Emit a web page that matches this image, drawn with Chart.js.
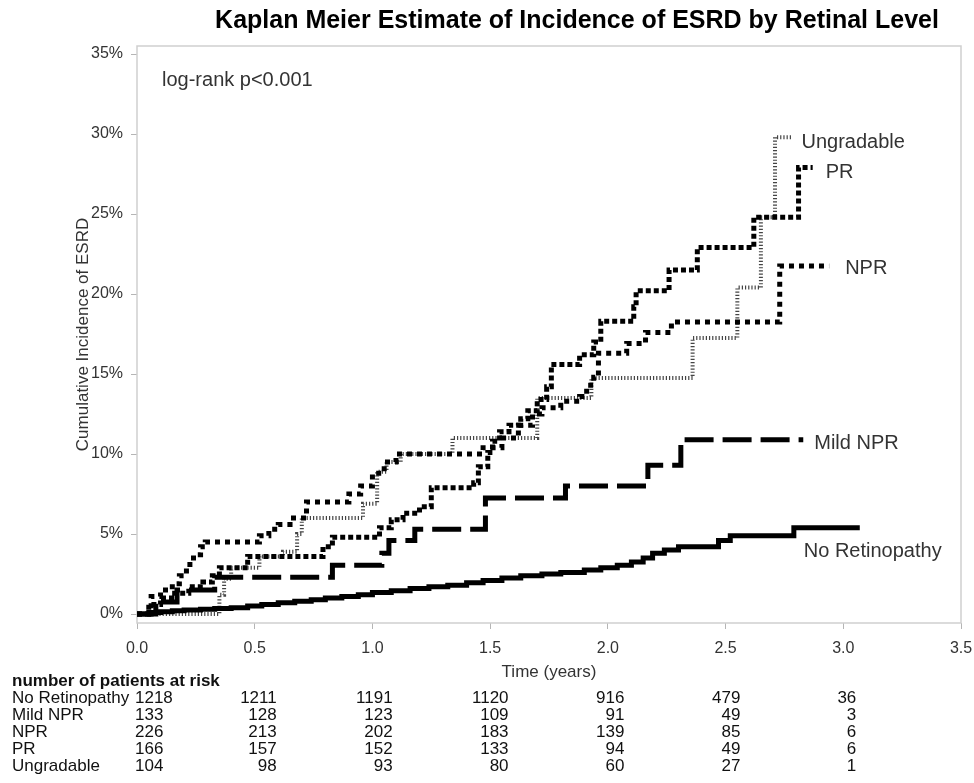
<!DOCTYPE html>
<html>
<head>
<meta charset="utf-8">
<script src="https://cdn.jsdelivr.net/npm/chart.js@4.4.1/dist/chart.umd.min.js"></script>
<style>
html, body { margin: 0; padding: 0; background: #fff; }
#wrap { width: 974px; height: 783px; position: relative; }
</style>
</head>
<body>
<div id="wrap"><canvas id="km"></canvas></div>
<script>
// groups
const groups = ["No Retinopathy", "Mild NPR", "NPR", "PR", "Ungradable"]

// step times (years) and cumulative incidence (%)
const noRetT = [0, 0.05, 0.1, 0.15, 0.2, 0.27, 0.33, 0.4, 0.47, 0.53, 0.6, 0.67, 0.74, 0.8, 0.87, 0.94, 1.0, 1.08, 1.16, 1.24, 1.32, 1.4, 1.47, 1.55, 1.63, 1.72, 1.8, 1.9, 1.97, 2.04, 2.1, 2.15, 2.19, 2.24, 2.3, 2.47, 2.52, 2.79, 3.07]
const noRetP = [0, 0.1, 0.15, 0.2, 0.25, 0.3, 0.35, 0.4, 0.5, 0.6, 0.7, 0.8, 0.9, 1.0, 1.1, 1.2, 1.35, 1.45, 1.6, 1.7, 1.8, 1.95, 2.1, 2.25, 2.4, 2.5, 2.6, 2.75, 2.9, 3.05, 3.25, 3.5, 3.8, 4.0, 4.2, 4.6, 4.9, 5.4, 5.4]

const mildT = [0, 0.08, 0.17, 0.33, 0.83, 1.04, 1.07, 1.18, 1.48, 1.82, 2.17, 2.31, 2.83]
const mildP = [0, 0.75, 1.5, 2.3, 3.05, 3.8, 4.6, 5.3, 7.25, 8.0, 9.3, 10.9, 10.9]

const nprT = [0, 0.06, 0.1, 0.15, 0.18, 0.21, 0.24, 0.27, 0.29, 0.52, 0.56, 0.6, 0.65, 0.72, 0.9, 0.95, 1.0, 1.05, 1.1, 1.47, 1.55, 1.62, 1.68, 1.72, 1.8, 1.88, 1.91, 1.94, 1.96, 2.08, 2.16, 2.27, 2.73, 2.94]
const nprP = [0, 1.1, 1.5, 1.9, 2.4, 3.1, 3.7, 4.2, 4.5, 4.9, 5.3, 5.6, 6.0, 7.0, 7.5, 8.0, 8.8, 9.5, 10.0, 10.4, 11.0, 11.8, 12.5, 12.9, 13.3, 13.6, 14.3, 14.8, 16.3, 16.9, 17.6, 18.25, 21.75, 21.75]

const prT = [0, 0.05, 0.1, 0.16, 0.22, 0.28, 0.32, 0.35, 0.47, 0.79, 0.83, 1.03, 1.08, 1.13, 1.2, 1.25, 1.43, 1.45, 1.49, 1.51, 1.54, 1.58, 1.63, 1.66, 1.7, 1.74, 1.76, 1.88, 1.94, 1.97, 2.11, 2.12, 2.26, 2.38, 2.62, 2.81, 2.87]
const prP = [0, 0.6, 1.0, 1.3, 1.7, 2.0, 2.4, 2.9, 3.6, 4.2, 4.8, 5.4, 5.9, 6.3, 6.7, 7.9, 8.2, 9.2, 10.1, 10.8, 11.4, 11.8, 12.2, 12.7, 13.4, 14.2, 15.6, 16.2, 17.0, 18.3, 19.2, 20.2, 21.5, 22.9, 24.8, 27.9, 27.9]

const ungT = [0, 0.35, 0.37, 0.4, 0.52, 0.62, 0.68, 0.7, 0.96, 1.02, 1.06, 1.12, 1.34, 1.7, 1.93, 2.36, 2.55, 2.65, 2.71, 2.78]
const ungP = [0, 1.2, 2.2, 2.9, 3.6, 3.9, 5.0, 6.0, 6.9, 8.9, 9.5, 10.0, 11.0, 13.5, 14.75, 17.25, 20.4, 24.8, 29.8, 29.8]

// axis ticks
const xTicks = [0, 0.5, 1.0, 1.5, 2.0, 2.5, 3.0, 3.5]
const yTicks = [0, 5, 10, 15, 20, 25, 30, 35]

// number at risk, per group, at each x tick
const riskTimes = [0, 0.5, 1.0, 1.5, 2.0, 2.5, 3.0]
const riskNoRet = [1218, 1211, 1191, 1120, 916, 479, 36]
const riskMild = [133, 128, 123, 109, 91, 49, 3]
const riskNpr = [226, 213, 202, 183, 139, 85, 6]
const riskPr = [166, 157, 152, 133, 94, 49, 6]
const riskUng = [104, 98, 93, 80, 60, 27, 1]

const FONT = "'Liberation Sans', Arial, sans-serif"

function pts(t, p) {
    return t.map((v, i) => ({ x: v, y: p[i] }))
}

// line look of each curve
const styles = [
    { color: '#000', width: 5, dash: [] },
    { color: '#000', width: 5, dash: [29, 9] },
    { color: '#000', width: 5, dash: [5, 5] },
    { color: '#000', width: 5, dash: [5, 3] },
    { color: '#444', width: 4, dash: [1.2, 2] }
]
// where each end label sits relative to the curve's last point (px)
const labelOffsets = [[-56, 24], [11, 4], [16, 2], [13, 5], [10, 5]]

const series = [pts(noRetT, noRetP), pts(mildT, mildP), pts(nprT, nprP), pts(prT, prP), pts(ungT, ungP)]
const risk = [riskNoRet, riskMild, riskNpr, riskPr, riskUng]

const extras = {
    id: 'extras',
    beforeDatasetsDraw(chart) {
        const a = chart.chartArea
        const ctx = chart.ctx
        ctx.save()
        ctx.strokeStyle = '#cfcfcf'
        ctx.lineWidth = 1.5
        ctx.strokeRect(a.left, a.top, a.right - a.left, a.bottom - a.top)
        ctx.restore()
    },
    afterDraw(chart) {
        const ctx = chart.ctx
        const xs = chart.scales.x
        const ys = chart.scales.y
        const a = chart.chartArea
        ctx.save()
        ctx.fillStyle = '#000'
        ctx.textBaseline = 'middle'

        // title
        ctx.font = 'bold 25px ' + FONT
        ctx.textAlign = 'center'
        ctx.fillText('Kaplan Meier Estimate of Incidence of ESRD by Retinal Level', 577, 21)

        // y axis title
        ctx.fillStyle = '#333'
        ctx.font = '17px ' + FONT
        ctx.save()
        ctx.translate(83, (a.top + a.bottom) / 2)
        ctx.rotate(-Math.PI / 2)
        ctx.fillText('Cumulative Incidence of ESRD', 0, 0)
        ctx.restore()

        // x axis title
        ctx.font = '17px ' + FONT
        ctx.fillText('Time (years)', (a.left + a.right) / 2, 672)

        // log-rank
        ctx.font = '20px ' + FONT
        ctx.textAlign = 'left'
        ctx.fillText('log-rank p<0.001', 162, 80)

        // end labels
        ctx.font = '20px ' + FONT
        series.forEach((s, i) => {
            const last = s[s.length - 1]
            const px = xs.getPixelForValue(last.x) + labelOffsets[i][0]
            const py = ys.getPixelForValue(last.y) + labelOffsets[i][1]
            ctx.fillText(groups[i], px, py)
        })

        // risk table
        ctx.fillStyle = '#111'
        ctx.font = 'bold 17px ' + FONT
        ctx.textAlign = 'left'
        ctx.fillText('number of patients at risk', 12, 681)
        ctx.font = '17px ' + FONT
        risk.forEach((row, r) => {
            const y = 698 + r * 17
            ctx.textAlign = 'left'
            ctx.fillText(groups[r], 12, y)
            row.forEach((n, c) => {
                const x = xs.getPixelForValue(riskTimes[c])
                if (c === 0) {
                    ctx.textAlign = 'left'
                    ctx.fillText(String(n), x - 2, y)
                } else {
                    // table columns sit a little tighter than the axis ticks
                    ctx.textAlign = 'right'
                    ctx.fillText(String(n), x + 22 - 1.8 * (c - 1), y)
                }
            })
        })
        ctx.restore()
    }
}

let chart = new Chart(document.getElementById('km'), {
    type: 'line',
    data: {
        datasets: series.map((s, i) => ({
            label: groups[i],
            data: s,
            stepped: 'before',
            borderColor: styles[i].color,
            borderWidth: styles[i].width,
            borderDash: styles[i].dash,
            borderCapStyle: 'butt',
            pointRadius: 0,
            fill: false
        }))
    },
    options: {
        responsive: true,
        maintainAspectRatio: false,
        animation: false,
        devicePixelRatio: 1,
        layout: { padding: { top: 46, right: 13, left: 0, bottom: 0 } },
        plugins: { legend: { display: false }, tooltip: { enabled: false } },
        scales: {
            x: {
                type: 'linear',
                min: 0,
                max: 3.5,
                afterBuildTicks: s => { s.ticks = xTicks.map(v => ({ value: v })) },
                afterFit: s => { s.height = 160; s.paddingLeft = 0; s.paddingRight = 0 },
                ticks: {
                    callback: v => v.toFixed(1),
                    font: { family: FONT, size: 16 },
                    color: '#333',
                    padding: 10,
                    maxRotation: 0
                },
                grid: { drawOnChartArea: false, tickLength: 6, color: '#b5b5b5' },
                border: { display: false }
            },
            y: {
                type: 'linear',
                min: -0.56,
                max: 35.5,
                afterBuildTicks: s => { s.ticks = yTicks.map(v => ({ value: v })) },
                afterFit: s => { s.width = 137; s.paddingTop = 0; s.paddingBottom = 0 },
                ticks: {
                    callback: v => v + '%',
                    font: { family: FONT, size: 16 },
                    color: '#333',
                    padding: 8
                },
                grid: { drawOnChartArea: false, tickLength: 6, color: '#b5b5b5' },
                border: { display: false }
            }
        }
    },
    plugins: [extras]
})
</script>
</body>
</html>
